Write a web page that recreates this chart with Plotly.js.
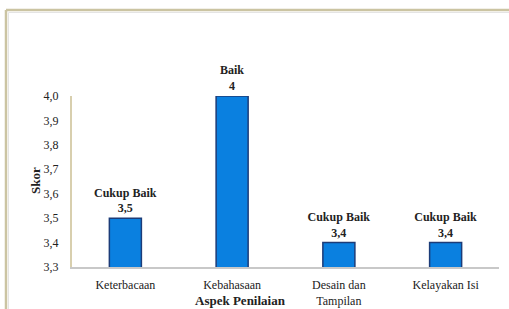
<!DOCTYPE html>
<html>
<head>
<meta charset="utf-8">
<script src="https://cdn.plot.ly/plotly-3.0.1.min.js"></script>
<style>html,body{margin:0;padding:0;background:#fff;}#chart{width:509px;height:309px;}</style>
</head>
<body>
<div id="chart"></div>
<script>
const categories = ["Keterbacaan", "Kebahasaan", "Desain dan<br>Tampilan", "Kelayakan Isi"];
const scores = [3.5, 4, 3.4, 3.4];
const ratings = ["Cukup Baik", "Baik", "Cukup Baik", "Cukup Baik"];
const scoreLabels = ["3,5", "4", "3,4", "3,4"];
const yTicks = [3.3, 3.4, 3.5, 3.6, 3.7, 3.8, 3.9, 4.0];

const serif = "'Liberation Serif', serif";

const trace = {
  type: "bar",
  x: categories,
  y: scores,
  text: ratings.map((r, i) => "<b>" + r + "<br>" + scoreLabels[i] + "</b>"),
  textposition: "outside",
  constraintext: "none",
  cliponaxis: false,
  textfont: {family: serif, size: 12, color: "#222"},
  marker: {color: "#0a80e0", line: {color: "#1c3c78", width: 1.5}},
  hoverinfo: "none"
};

const W = 427, H = 171;
const px = p => (p - 72) / W;
const py = p => (267 - p) / H;

const layout = {
  width: 509, height: 309,
  margin: {l: 72, r: 10, t: 96, b: 42},
  paper_bgcolor: "#fff", plot_bgcolor: "#fff",
  separators: ", ",
  showlegend: false,
  bargap: 0.7,
  font: {family: serif, size: 12, color: "#222"},
  xaxis: {
    type: "category",
    showline: true, linecolor: "#c8c8c8", linewidth: 2,
    ticks: "", showgrid: false, zeroline: false,
    ticklabelstandoff: 6,
    tickfont: {family: serif, size: 12, color: "#222"}
  },
  yaxis: {
    range: [3.3, 4.0],
    tickvals: yTicks,
    ticktext: yTicks.map(v => v.toFixed(1).replace(".", ",")),
    showline: true, linecolor: "#d8cfae", linewidth: 2,
    ticks: "", showgrid: false, zeroline: false,
    ticklabelstandoff: 9,
    tickfont: {family: serif, size: 12, color: "#222"}
  },
  annotations: [{
    text: "<b>Aspek Penilaian</b>", showarrow: false,
    xref: "paper", yref: "paper", x: px(240), y: py(300),
    xanchor: "center", yanchor: "middle",
    font: {family: serif, size: 13, color: "#222"}
  }, {
    text: "<b>Skor</b>", showarrow: false, textangle: -90,
    xref: "paper", yref: "paper", x: px(35), y: py(181),
    xanchor: "center", yanchor: "middle",
    font: {family: serif, size: 13, color: "#222"}
  }],
  shapes: [
    {type: "line", xref: "paper", yref: "paper", x0: px(6), x1: px(6), y0: py(320), y1: py(10), line: {color: "#cbc4a2", width: 2.5}},
    {type: "line", xref: "paper", yref: "paper", x0: px(6), x1: px(520), y0: py(10), y1: py(10), line: {color: "#cbc4a2", width: 2.5}},
    {type: "line", xref: "paper", yref: "paper", x0: px(8.5), x1: px(8.5), y0: py(320), y1: py(12.5), line: {color: "#e4e4e4", width: 1}},
    {type: "line", xref: "paper", yref: "paper", x0: px(8.5), x1: px(520), y0: py(12.5), y1: py(12.5), line: {color: "#e4e4e4", width: 1}}
  ]
};

Plotly.newPlot("chart", [trace], layout, {displayModeBar: false, staticPlot: true});
</script>
</body>
</html>
